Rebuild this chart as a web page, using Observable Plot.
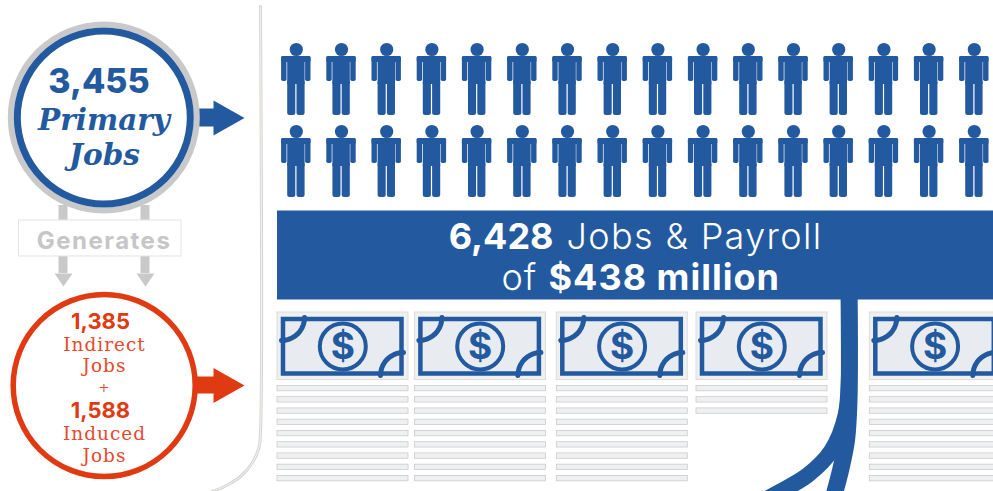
<!DOCTYPE html>
<html><head><meta charset="utf-8">
<script src="https://cdn.jsdelivr.net/npm/d3@7"></script>
<script src="https://cdn.jsdelivr.net/npm/@observablehq/plot@0.6"></script>
<style>html,body{margin:0;padding:0;background:#fff;overflow:hidden}svg{display:block;overflow:hidden}
.ls1 text{letter-spacing:1px}.ls13 text{letter-spacing:1.35px}.ls15 text{letter-spacing:1.5px}</style>
</head><body><div id="chart"></div>
<script>
// ---- values
const primaryJobs = 3455, indirectJobs = 1385, inducedJobs = 1588, totalJobs = 6428, payrollMillions = 438;
const peopleRows = [0, 1];
const peopleColumns = d3.range(16);
const billLineCounts = [9, 9, 9, 3, 9];
const fmt = d3.format(",");

// ---- layout
const BLUE = "#23599f", RED = "#e03a12", REDTEXT = "#e6492c", GRAY = "#c9c9c9";
const SANS = "Inter, 'Open Sans', sans-serif", SLAB = "'DejaVu Serif', serif";
const billLeft = [277, 414.4, 556.3, 696, 869.3];
const people = peopleRows.flatMap(r => peopleColumns.map(c => ({cx: 295.8 + 45.2 * c, ty: 82 * r})));
const bills = billLeft.map(x => ({x}));
const billLines = billLineCounts.flatMap((n, b) => d3.range(n).map(i => ({x: billLeft[b], y: 385.4 + 11.25 * i})));
const part = (dx1, dx2, y1, y2, rx) => Plot.rect(people, {
  x1: d => d.cx + dx1, x2: d => d.cx + dx2, y1: d => d.ty + y1, y2: d => d.ty + y2, fill: BLUE, rx
});
const poly = (pts, fill) => Plot.line(pts, {x: "0", y: "1", fill, stroke: "none"});
const label = (text, x, y, o) => Plot.text([text], {x: () => x, y: () => y, text: d => d, lineAnchor: "bottom", ...o});
const arcPts = (cx, cy, r, a0, a1) => d3.range(0, 1.001, 0.1).map(t => {
  const a = a0 + (a1 - a0) * t; return [cx + r * Math.cos(a), cy + r * Math.sin(a)];
});

const marks = [
  // panel outline
  ...["#d6d4d2", "#f6f6f6"].map((stroke, i) => Plot.line(
    [[260, 6], [260, 432], [258.5, 447], [252, 462], [240, 476], [226, 485], [212, 491]],
    {x: "0", y: "1", stroke, strokeWidth: i ? 1 : 3, curve: "catmull-rom"})),

  // gray connectors
  ...[63, 145].flatMap(cx => [
    Plot.rect([cx], {x1: d => d - 4.5, x2: d => d + 4.5, y1: () => 205, y2: () => 273, fill: GRAY}),
    poly([[cx - 9, 273], [cx + 9, 273], [cx, 286]], GRAY)
  ]),
  Plot.rect([0], {x1: () => 18.5, x2: () => 181, y1: () => 220, y2: () => 256, fill: "#fff", stroke: "#e3e3e3"}),
  label("Generates", 103.5, 248, {fontFamily: SANS, fontWeight: 700, fontSize: 24, fill: "#c6c6c6", className: "ls15"}),

  // arrows
  Plot.rect([0], {x1: () => 185, x2: () => 214, y1: () => 108.5, y2: () => 126.5, fill: BLUE}),
  poly([[213, 100], [244, 117.5], [213, 135]], BLUE),
  Plot.rect([0], {x1: () => 190, x2: () => 214, y1: () => 376.5, y2: () => 393.5, fill: RED}),
  poly([[213, 367.5], [244, 385], [213, 402.5]], RED),

  // circles
  Plot.dot([0], {x: () => 103.3, y: () => 117, r: 93, stroke: GRAY, strokeWidth: 6, fill: "#fff"}),
  Plot.dot([0], {x: () => 103.3, y: () => 117, r: 86.5, stroke: BLUE, strokeWidth: 7, fill: "#fff"}),
  Plot.dot([0], {x: () => 103.7, y: () => 385, r: 91, stroke: RED, strokeWidth: 5.5, fill: "#fff"}),

  label(fmt(primaryJobs), 98.5, 92.5, {fontFamily: SANS, fontWeight: 800, fontSize: 34, fill: BLUE}),
  label("Primary", 103.5, 129, {fontFamily: SLAB, fontStyle: "italic", fontWeight: 700, fontSize: 29.5, fill: BLUE}),
  label("Jobs", 104, 164, {fontFamily: SLAB, fontStyle: "italic", fontWeight: 700, fontSize: 29.5, fill: BLUE}),

  label(fmt(indirectJobs), 100, 328, {fontFamily: SANS, fontWeight: 700, fontSize: 22, fill: RED}),
  label("Indirect", 104, 350, {fontFamily: SLAB, fontSize: 18.5, fill: REDTEXT, className: "ls1"}),
  label("Jobs", 104, 371.5, {fontFamily: SLAB, fontSize: 18.5, fill: REDTEXT, className: "ls1"}),
  label("+", 103.5, 391, {fontFamily: SLAB, fontSize: 13, fill: REDTEXT}),
  label(fmt(inducedJobs), 100, 417.5, {fontFamily: SANS, fontWeight: 700, fontSize: 22, fill: RED}),
  label("Induced", 104, 439, {fontFamily: SLAB, fontSize: 18.5, fill: REDTEXT, className: "ls1"}),
  label("Jobs", 104, 461, {fontFamily: SLAB, fontSize: 18.5, fill: REDTEXT, className: "ls1"}),

  // people
  Plot.dot(people, {x: "cx", y: d => d.ty + 49, r: 6.6, fill: BLUE}),
  part(-14.7, -9.3, 56, 81, 1.8),
  part(9.3, 14.7, 56, 81, 1.8),
  part(-14.7, 14.7, 56, 62, 1.5),
  part(-8.6, 8.8, 56, 84, 0),
  part(-8.6, -0.5, 80, 115, 2.5),
  part(0.7, 8.8, 80, 115, 2.5),

  // banner
  Plot.rect([0], {x1: () => 277, x2: () => 993, y1: () => 210.5, y2: () => 299.5, fill: BLUE}),
  label(fmt(totalJobs), 553, 248, {textAnchor: "end", fontFamily: SANS, fontWeight: 700, fontSize: 36, fill: "#fff"}),
  label("Jobs & Payroll", 566, 248, {textAnchor: "start", fontFamily: SANS, fontWeight: 300, fontSize: 36, fill: "#fff", className: "ls13"}),
  label("of", 501, 289, {textAnchor: "start", fontFamily: SANS, fontWeight: 300, fontSize: 36, fill: "#fff", className: "ls1"}),
  label(`$${payrollMillions} million`, 548, 289, {textAnchor: "start", fontFamily: SANS, fontWeight: 700, fontSize: 36, fill: "#fff", className: "ls1"}),

  // payroll stream
  Plot.line([[848.5, 290], [848.5, 375], [845, 415], [831, 450], [808, 474], [780, 491], [765, 499]],
    {x: "0", y: "1", stroke: BLUE, strokeWidth: 16, curve: "catmull-rom"}),
  Plot.line([[848.5, 290], [848.5, 400], [846, 440], [840, 470], [832, 500]],
    {x: "0", y: "1", stroke: BLUE, strokeWidth: 17, curve: "catmull-rom"}),

  // bills
  Plot.rect(bills, {x1: "x", x2: d => d.x + 131, y1: () => 312, y2: () => 379.5, fill: "#eef0f2", stroke: "#dedcda"}),
  Plot.rect(bills, {x1: d => d.x + 6, x2: d => d.x + 124.5, y1: () => 319, y2: () => 373.5, fill: "#e8ecf1", stroke: BLUE, strokeWidth: 4.5}),
  ...bills.flatMap(b => [
    Plot.line(arcPts(b.x + 4, 317, 23, 0, Math.PI / 2), {x: "0", y: "1", stroke: BLUE, strokeWidth: 5}),
    Plot.line(arcPts(b.x + 126, 375, 23, Math.PI, 1.5 * Math.PI), {x: "0", y: "1", stroke: BLUE, strokeWidth: 5})
  ]),
  Plot.dot(bills, {x: d => d.x + 65.3, y: () => 346, r: 23, stroke: BLUE, strokeWidth: 4, fill: "#e8ecf1"}),
  Plot.text(bills, {x: d => d.x + 65.3, y: () => 347, text: () => "$", fontFamily: SANS, fontWeight: 700, fontSize: 37, fill: BLUE}),
  Plot.rect(billLines, {x1: "x", x2: d => d.x + 131, y1: "y", y2: d => d.y + 5.4, fill: "#eef0f1", stroke: "#cbcbcb", strokeWidth: 0.8})
];

const chart = Plot.plot({
  width: 993, height: 491, margin: 0, style: {background: "#fff", overflow: "hidden"},
  x: {domain: [0, 993], range: [0, 993], axis: null},
  y: {domain: [0, 491], range: [0, 491], axis: null},
  marks
});
document.getElementById("chart").append(chart);
</script></body></html>
